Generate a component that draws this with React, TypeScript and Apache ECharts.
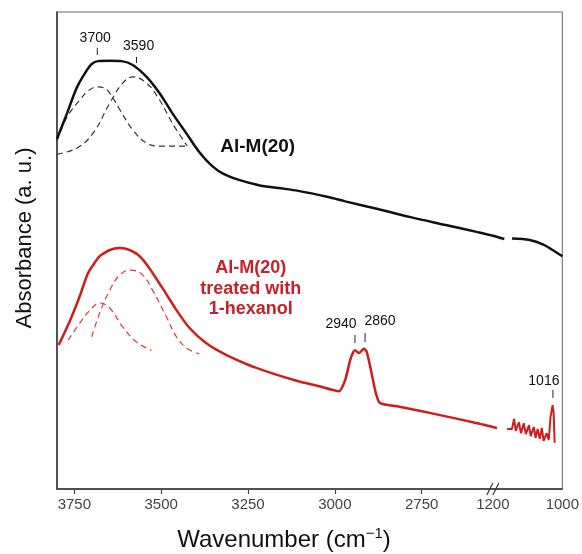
import React, { useEffect, useRef } from "react";
import * as echarts from "echarts";

// Broken wavenumber axis: 3800 -> ~2545 then 1200 -> 1000
const BREAK_SHIFT = 1345; // 1200 cm-1 sits at axis position 2545
const toAxis = (w: number) => (w > 2000 ? w : w + BREAK_SHIFT);
const axisToLabel = (v: number) => (v > 2600 ? String(v) : String(Math.round(v - BREAK_SHIFT)));

const tickWavenumbers = [3750, 3500, 3250, 3000, 2750];
const labelWavenumbers = [3750, 3500, 3250, 3000, 2750, 1200, 1000];

// [wavenumber (cm-1), absorbance (a.u.)]
const blackMain: [number, number][] = [
  [3800, 0.734], [3771, 0.788], [3742, 0.843], [3714, 0.878], [3700, 0.891], [3682, 0.897],
  [3648, 0.898], [3614, 0.897], [3582, 0.889], [3542, 0.864], [3505, 0.830], [3468, 0.788],
  [3428, 0.746], [3390, 0.706], [3353, 0.677], [3319, 0.660], [3276, 0.648], [3219, 0.637],
  [3162, 0.631], [3105, 0.625], [3019, 0.612], [2970, 0.603], [2876, 0.587], [2782, 0.570],
  [2684, 0.554], [2592, 0.539], [1200, 0.531], [1167, 0.524],
];
const blackTail: [number, number][] = [
  [1145, 0.525], [1094, 0.522], [1053, 0.512], [1028, 0.501], [1000, 0.488],
];
const blackBand1: [number, number][] = [
  [3800, 0.730], [3771, 0.780], [3734, 0.816], [3711, 0.834], [3685, 0.843], [3665, 0.841],
  [3648, 0.830], [3619, 0.795], [3582, 0.753], [3542, 0.725], [3505, 0.719], [3425, 0.719],
];
const blackBand2: [number, number][] = [
  [3800, 0.702], [3742, 0.715], [3696, 0.746], [3648, 0.809], [3611, 0.851], [3582, 0.864],
  [3542, 0.851], [3505, 0.816], [3468, 0.767], [3425, 0.719],
];

const redMain: [number, number][] = [
  [3795, 0.302], [3762, 0.354], [3734, 0.405], [3711, 0.452], [3677, 0.488], [3648, 0.501],
  [3619, 0.505], [3591, 0.501], [3562, 0.488], [3534, 0.463], [3496, 0.421], [3456, 0.375],
  [3419, 0.338], [3371, 0.306], [3313, 0.281], [3248, 0.260], [3182, 0.243], [3105, 0.226],
  [3048, 0.216], [2988, 0.205], [2970, 0.229], [2956, 0.270], [2947, 0.287], [2942, 0.291],
  [2931, 0.285], [2916, 0.294], [2908, 0.287], [2896, 0.249], [2882, 0.201], [2870, 0.180],
  [2810, 0.172], [2710, 0.157], [2590, 0.138], [1200, 0.130], [1188, 0.128],
];
const redTail: [number, number][] = [
  [1159, 0.126], [1145, 0.126], [1139, 0.147], [1134, 0.122], [1125, 0.140], [1119, 0.117],
  [1111, 0.138], [1105, 0.115], [1096, 0.134], [1091, 0.111], [1082, 0.130], [1077, 0.107],
  [1071, 0.126], [1065, 0.105], [1059, 0.128], [1054, 0.101], [1045, 0.117], [1039, 0.103],
  [1034, 0.151], [1028, 0.176], [1025, 0.159], [1022, 0.097],
];
const redBand1: [number, number][] = [
  [3768, 0.312], [3734, 0.348], [3700, 0.379], [3677, 0.390], [3648, 0.379], [3611, 0.340],
  [3571, 0.308], [3528, 0.291],
];
const redBand2: [number, number][] = [
  [3700, 0.319], [3677, 0.369], [3648, 0.417], [3619, 0.449], [3588, 0.459], [3554, 0.449],
  [3525, 0.417], [3485, 0.361], [3456, 0.319], [3428, 0.296], [3390, 0.283],
];

// peak annotations: tick at wavenumber w, text centred at textW
const peakLabels = [
  { text: "3700", w: 3684, textW: 3690, textY: 0.948, tickTop: 0.925, tickBottom: 0.91 },
  { text: "3590", w: 3571, textW: 3565, textY: 0.931, tickTop: 0.906, tickBottom: 0.893 },
  { text: "2940", w: 2942, textW: 2982, textY: 0.348, tickTop: 0.323, tickBottom: 0.306 },
  { text: "2860", w: 2913, textW: 2870, textY: 0.354, tickTop: 0.327, tickBottom: 0.308 },
  { text: "1016", w: 1027, textW: 1053, textY: 0.229, tickTop: 0.208, tickBottom: 0.191 },
];

const sampleLabels = [
  { lines: ["Al-M(20)"], w: 3222, y: 0.721, color: "#111111", size: 19 },
  { lines: ["Al-M(20)", "treated with", "1-hexanol"], w: 3242, y: 0.465, color: "#c8202b", size: 18 },
];

const FONT = "'Liberation Sans', Arial, Helvetica, sans-serif";
const BLACK = "#111111";
const RED = "#cf1d1d";

const conv = (d: [number, number][]) => d.map(([w, a]) => [toAxis(w), a]);

export default function App() {
  const ref = useRef<HTMLDivElement>(null);
  useEffect(() => {
    if (!ref.current) return;
    const chart = echarts.init(ref.current, undefined, { renderer: "svg" });
    const lineSeries = (data: [number, number][], color: string, width: number, dashed: boolean, smooth: number | boolean) => ({
      type: "line",
      data: conv(data),
      showSymbol: false,
      smooth,
      silent: true,
      lineStyle: { color, width, type: dashed ? [6, 4] : "solid" },
    });
    chart.setOption({
      animation: false,
      grid: { left: 57, right: 17, top: 12, bottom: 65, show: true, borderColor: "#666", borderWidth: 1 },
      xAxis: {
        type: "value",
        inverse: true,
        min: 2345,
        max: 3800,
        splitLine: { show: false },
        axisLine: { show: true, lineStyle: { color: "#333", width: 1.5 } },
        axisTick: {
          show: true,
          length: 5,
          lineStyle: { color: "#444", width: 1.2 },
          customValues: tickWavenumbers.map(toAxis),
        },
        axisLabel: {
          show: true,
          customValues: labelWavenumbers.map(toAxis),
          formatter: (v: number) => axisToLabel(v),
          color: "#444",
          fontSize: 15,
          fontFamily: FONT,
          margin: 7,
          showMinLabel: true,
          showMaxLabel: true,
        },
      },
      yAxis: {
        type: "value",
        min: 0,
        max: 1,
        splitLine: { show: false },
        axisLine: { show: true, lineStyle: { color: "#333", width: 1.5 } },
        axisTick: { show: false },
        axisLabel: { show: false },
      },
      series: [
        lineSeries(blackBand1, "#333", 1.2, true, 0.4),
        lineSeries(blackBand2, "#333", 1.2, true, 0.4),
        lineSeries(redBand1, "#e03a3a", 1.2, true, 0.4),
        lineSeries(redBand2, "#e03a3a", 1.2, true, 0.4),
        lineSeries(blackMain, BLACK, 2.5, false, 0.3),
        lineSeries(blackTail, BLACK, 2.5, false, 0.3),
        lineSeries(redMain, RED, 2.5, false, 0.2),
        lineSeries(redTail, RED, 2, false, false),
      ],
    });

    const px = (w: number, a: number) => chart.convertToPixel({ gridIndex: 0 }, [toAxis(w), a]) as number[];
    const graphics: any[] = [];
    peakLabels.forEach((p) => {
      const t = px(p.textW, p.textY);
      const a = px(p.w, p.tickTop);
      const b = px(p.w, p.tickBottom);
      graphics.push({
        type: "text",
        style: { text: p.text, x: t[0], y: t[1], align: "center", verticalAlign: "middle", fontSize: 14, fontFamily: FONT, fill: "#111" },
      });
      graphics.push({ type: "line", shape: { x1: a[0], y1: a[1], x2: b[0], y2: b[1] }, style: { stroke: "#222", lineWidth: 1 } });
    });
    sampleLabels.forEach((s) => {
      const c = px(s.w, s.y);
      s.lines.forEach((ln, i) => {
        graphics.push({
          type: "text",
          style: {
            text: ln, x: c[0], y: c[1] + i * 20.5, align: "center", verticalAlign: "middle",
            fontSize: s.size, fontWeight: "bold", fontFamily: FONT, fill: s.color,
          },
        });
      });
    });
    // axis break marks at 1200
    const br = px(1200, 0);
    [-3, 3].forEach((dx) => {
      graphics.push({
        type: "line",
        shape: { x1: br[0] + dx - 3, y1: br[1] + 6, x2: br[0] + dx + 3, y2: br[1] - 6 },
        style: { stroke: "#333", lineWidth: 1.2 },
      });
    });
    // axis titles
    graphics.push({
      type: "text",
      x: 23,
      y: 238,
      rotation: Math.PI / 2,
      style: { text: "Absorbance (a. u.)", x: 0, y: 0, align: "center", verticalAlign: "middle", fontSize: 22, fontFamily: FONT, fill: "#111" },
    });
    graphics.push({
      type: "text",
      style: {
        text: "Wavenumber (cm{sup|−1})",
        x: 284,
        y: 538,
        align: "center",
        verticalAlign: "middle",
        fontSize: 24,
        fontFamily: FONT,
        fill: "#111",
        rich: { sup: { fontSize: 15, fontFamily: FONT, fill: "#111", padding: [0, 0, 12, 0] } },
      },
    });
    chart.setOption({ graphic: graphics });
    return () => chart.dispose();
  }, []);
  return <div ref={ref} style={{ position: "fixed", left: 0, top: 0, width: 582, height: 554 }} />;
}
